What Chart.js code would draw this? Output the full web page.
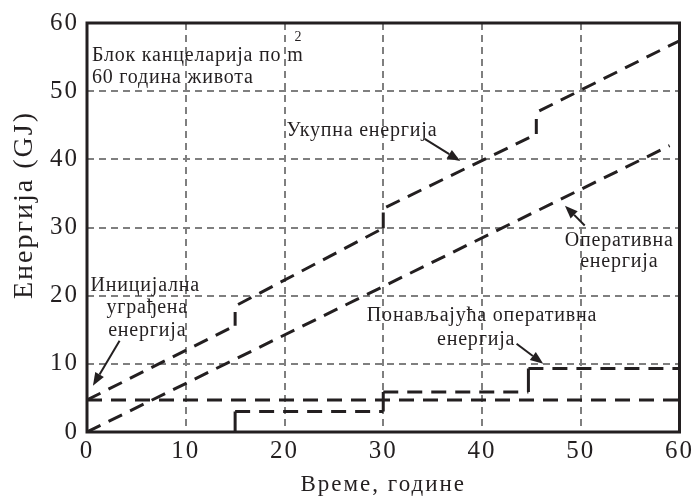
<!doctype html>
<html lang="sr">
<head>
<meta charset="utf-8">
<title>Енергија</title>
<script src="https://cdn.jsdelivr.net/npm/chart.js@4.4.1/dist/chart.umd.min.js"></script>
<style>
  html, body { margin: 0; padding: 0; background: #fff; }
  #chartContainer { width: 696px; height: 499px; }
</style>
</head>
<body>
<div id="chartContainer"><canvas id="myChart"></canvas></div>
<script>
// values (x = години, y = GJ)
const totalX = [0, 15, 15, 15, 15.3, 30, 30, 30, 30.3, 45.5, 45.5, 45.5, 45.8, 60];
const totalY = [4.7, 15.6, 17.6, null, 18.7, 29.9, 32.2, null, 33.0, 43.7, 45.9, null, 47.1, 57.4];
const operX = [0, 59];
const operY = [0, 42.0];
const initX = [0, 60];
const initY = [4.7, 4.7];
const recurX = [15, 15, 30, 30, 44.7, 44.7, 60];
const recurY = [0, 3.0, 3.0, 5.85, 5.85, 9.3, 9.3];
const xTickValues = [0, 10, 20, 30, 40, 50, 60];
const yTickValues = [0, 10, 20, 30, 40, 50, 60];

const INK = '#231f20';
const FONT = "'Liberation Serif', 'Times New Roman', serif";

// text notes and arrows, placed in data units
const notes = [
  {text: 'Блок канцеларија по m', x: 0.5, y: 54.4, align: 'left', size: 20},
  {text: '60 година живота', x: 0.5, y: 51.2, align: 'left', size: 20},
  {text: '2', x: 21.0, y: 57.4, align: 'left', size: 14},
  {text: 'Укупна енергија', x: 20.2, y: 43.4, align: 'left', size: 20},
  {text: 'Оперативна', x: 53.9, y: 27.3, align: 'center', size: 20},
  {text: 'енергија', x: 53.9, y: 24.25, align: 'center', size: 20},
  {text: 'Иницијална', x: 5.9, y: 20.7, align: 'center', size: 20},
  {text: 'уграђена', x: 6.1, y: 17.4, align: 'center', size: 20},
  {text: 'енергија', x: 6.1, y: 14.15, align: 'center', size: 20},
  {text: 'Понављајућа оперативна', x: 40.0, y: 16.25, align: 'center', size: 20},
  {text: 'енергија', x: 39.4, y: 12.7, align: 'center', size: 20}
];
const arrows = [
  {from: [34.2, 43.0], to: [37.8, 39.75]},
  {from: [50.4, 30.3], to: [48.4, 33.2]},
  {from: [3.3, 13.4], to: [0.6, 6.8]},
  {from: [43.5, 12.94], to: [46.2, 10.0]}
];

const toPoints = (xs, ys) => xs.map((v, i) => ({x: v, y: ys[i]}));

const lineSet = (xs, ys) => ({
  data: toPoints(xs, ys),
  showLine: true,
  borderColor: INK,
  backgroundColor: INK,
  borderWidth: 3,
  borderDash: [15, 9],
  pointRadius: 0,
  spanGaps: false,
  segment: {
    // the vertical steps are drawn solid
    borderDash: c => c.p0.parsed.x === c.p1.parsed.x ? [] : [15, 9]
  }
});

const sketchPlugin = {
  id: 'sketch',
  beforeDraw(chart) {
    // the printed type is a little wider than Liberation Serif
    chart.ctx.letterSpacing = '2px';
  },
  afterDraw(chart) {
    const {ctx, chartArea: a} = chart;
    const xs = chart.scales.x, ys = chart.scales.y;
    ctx.save();
    ctx.setLineDash([]);
    ctx.lineWidth = 3;
    ctx.strokeStyle = INK;
    ctx.strokeRect(a.left, a.top, a.right - a.left, a.bottom - a.top);

    ctx.fillStyle = INK;
    ctx.textBaseline = 'alphabetic';
    ctx.letterSpacing = '0.8px';
    notes.forEach(n => {
      ctx.font = n.size + 'px ' + FONT;
      ctx.textAlign = n.align;
      ctx.fillText(n.text, xs.getPixelForValue(n.x), ys.getPixelForValue(n.y));
    });

    ctx.lineWidth = 2;
    arrows.forEach(ar => {
      const x0 = xs.getPixelForValue(ar.from[0]), y0 = ys.getPixelForValue(ar.from[1]);
      const x1 = xs.getPixelForValue(ar.to[0]), y1 = ys.getPixelForValue(ar.to[1]);
      const ang = Math.atan2(y1 - y0, x1 - x0);
      const len = 13, half = 5;
      const bx = x1 - len * Math.cos(ang), by = y1 - len * Math.sin(ang);
      ctx.beginPath();
      ctx.moveTo(x0, y0);
      ctx.lineTo(bx, by);
      ctx.stroke();
      ctx.beginPath();
      ctx.moveTo(x1, y1);
      ctx.lineTo(bx + half * Math.sin(ang), by - half * Math.cos(ang));
      ctx.lineTo(bx - half * Math.sin(ang), by + half * Math.cos(ang));
      ctx.closePath();
      ctx.fill();
    });

    // y axis title
    ctx.font = '28px ' + FONT;
    ctx.letterSpacing = '2px';
    ctx.textAlign = 'center';
    ctx.translate(32, 205);
    ctx.rotate(-Math.PI / 2);
    ctx.fillText('Енергија (GJ)', 0, 0);
    ctx.restore();
  }
};

new Chart(document.getElementById('myChart'), {
  type: 'scatter',
  data: {
    datasets: [
      lineSet(totalX, totalY),
      lineSet(operX, operY),
      lineSet(initX, initY),
      lineSet(recurX, recurY)
    ]
  },
  options: {
    responsive: true,
    maintainAspectRatio: false,
    animation: false,
    layout: {padding: {top: 21, right: 12, left: 0, bottom: 0}},
    plugins: {legend: {display: false}, tooltip: {enabled: false}},
    scales: {
      x: {
        type: 'linear',
        min: 0, max: 60,
        afterFit: s => { s.height = 67; },
        afterBuildTicks: s => { s.ticks = xTickValues.map(v => ({value: v})); },
        ticks: {color: INK, padding: 4, font: {family: FONT, size: 25}},
        grid: {color: '#7f7f7f', lineWidth: 2, drawTicks: false},
        border: {display: false, dash: [7, 5]},
        title: {display: true, text: 'Време, године', color: INK,
                font: {family: FONT, size: 23}, padding: {top: 0, bottom: 0}}
      },
      y: {
        type: 'linear',
        min: 0, max: 60,
        afterFit: s => { s.width = 87; },
        afterBuildTicks: s => { s.ticks = yTickValues.map(v => ({value: v})); },
        ticks: {color: INK, padding: 8, font: {family: FONT, size: 25}},
        grid: {color: '#7f7f7f', lineWidth: 2, drawTicks: false},
        border: {display: false, dash: [7, 5]}
      }
    }
  },
  plugins: [sketchPlugin]
});
</script>
</body>
</html>
